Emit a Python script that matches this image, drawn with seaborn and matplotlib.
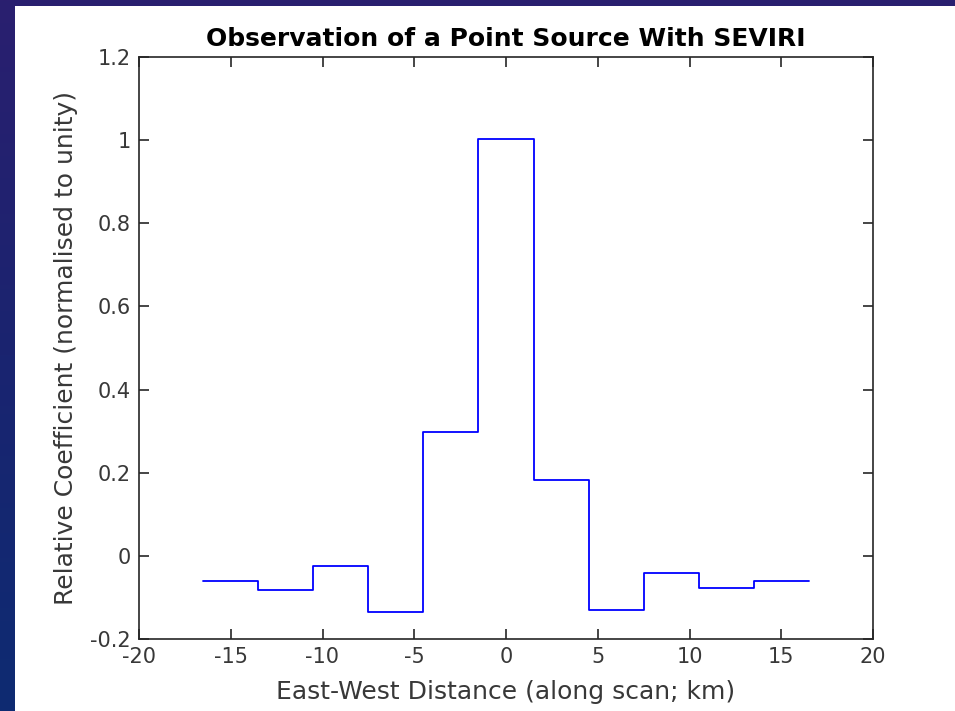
import numpy as np
import pandas as pd
import matplotlib
matplotlib.use("Agg")
import matplotlib.pyplot as plt
import seaborn as sns
from matplotlib.patches import Rectangle
from matplotlib.colors import LinearSegmentedColormap

# Data: bin edges (km) and relative coefficient per bin
bin_edges = [-16.5, -13.5, -10.5, -7.5, -4.5, -1.5, 1.5, 4.5, 7.5, 10.5, 13.5, 16.5]
coefficients = [-0.060, -0.082, -0.024, -0.134, 0.298, 1.002, 0.182, -0.130, -0.042, -0.077, -0.061]
x_ticks = [-20, -15, -10, -5, 0, 5, 10, 15, 20]
x_tick_labels = ["-20", "-15", "-10", "-5", "0", "5", "10", "15", "20"]
y_ticks = [-0.2, 0, 0.2, 0.4, 0.6, 0.8, 1.0, 1.2]
y_tick_labels = ["-0.2", "0", "0.2", "0.4", "0.6", "0.8", "1", "1.2"]

sns.set_style("white")
plt.rcParams["font.family"] = ["DejaVu Sans"]
plt.rcParams["axes.unicode_minus"] = False

fig = plt.figure(figsize=(9.55, 7.11), dpi=100)
fig.patch.set_facecolor("#22206a")
# gradient-ish background
bg = fig.add_axes([0, 0, 1, 1], zorder=-10)
grad = np.linspace(0, 1, 256).reshape(-1, 1)
cmap = LinearSegmentedColormap.from_list("bg", ["#2a1f6f", "#1a2470", "#0e2b72"])
bg.imshow(grad, aspect="auto", cmap=cmap, extent=[0, 1, 0, 1], origin="upper")
bg.set_axis_off()
fig.patches.append(Rectangle((15 / 955, 0), 1 - 15 / 955, 1 - 6 / 711,
                             transform=fig.transFigure, facecolor="white",
                             edgecolor="none", zorder=-5))

ax = fig.add_axes([139 / 955, 1 - 639 / 711, (873 - 139) / 955, (639 - 57) / 711])
ax.set_facecolor("white")

df = pd.DataFrame({"x": bin_edges, "y": coefficients + [coefficients[-1]]})
sns.lineplot(data=df, x="x", y="y", ax=ax, color=(0, 0, 1), linewidth=1.3,
             drawstyle="steps-post", estimator=None, sort=False)

ax.set_xlim(-20, 20)
ax.set_ylim(-0.2, 1.2)
ax.set_xticks(x_ticks)
ax.set_xticklabels(x_tick_labels)
ax.set_yticks(y_ticks)
ax.set_yticklabels(y_tick_labels)

tc = "#262626"
for s in ax.spines.values():
    s.set_visible(True)
    s.set_color(tc)
    s.set_linewidth(1.2)
ax.tick_params(direction="in", length=7, width=1.2, color=tc, labelcolor="#383838",
               labelsize=15, top=True, right=True, bottom=True, left=True, pad=6)

ax.set_xlabel("East-West Distance (along scan; km)", fontsize=18, color="#383838", labelpad=9)
ax.set_ylabel("Relative Coefficient (normalised to unity)", fontsize=18, color="#383838", labelpad=9)
ax.set_title("Observation of a Point Source With SEVIRI", fontsize=18, fontweight="bold",
             color="black", pad=8)

fig.savefig("out.png", dpi=100, facecolor=fig.get_facecolor())
